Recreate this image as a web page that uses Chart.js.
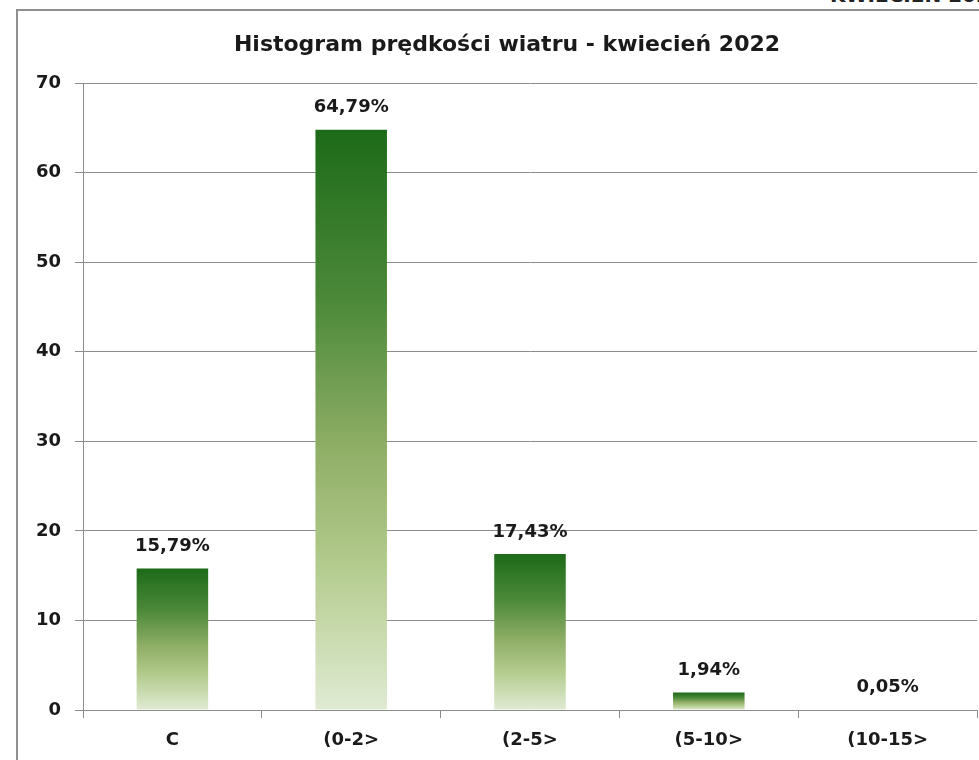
<!DOCTYPE html>
<html>
<head>
<meta charset="utf-8">
<script src="https://cdn.jsdelivr.net/npm/chart.js@4"></script>
<style>
  body { margin: 0; background: #fff; overflow: hidden; }
  #wrap { position: relative; width: 979px; height: 760px; }
  #frame { position: absolute; left: 16px; top: 9px; width: 1000px; height: 800px; border: 2px solid #8f8f8f; box-sizing: border-box; }
  #topText { position: absolute; left: 830px; top: -17px; font: bold 20px "DejaVu Sans", sans-serif; color: #222; white-space: nowrap; }
  canvas { position: absolute; left: 0; top: 0; }
</style>
</head>
<body>
<div id="wrap">
  <div id="topText">KWIECIEŃ 2022</div>
  <div id="frame"></div>
  <canvas id="windChart" width="979" height="760"></canvas>
</div>
<script>
var categories = ['C', '(0-2>', '(2-5>', '(5-10>', '(10-15>'];
var shares = [15.79, 64.79, 17.43, 1.94, 0.05];
var shareLabels = ['15,79%', '64,79%', '17,43%', '1,94%', '0,05%'];
var yTicks = [0, 10, 20, 30, 40, 50, 60, 70];
var chartTitle = 'Histogram prędkości wiatru - kwiecień 2022';

var fontName = '"DejaVu Sans", sans-serif';

// each bar gets its own dark-to-light gradient
const barGradient = (context) => {
   var chart = context.chart;
   if (!chart.chartArea) return '#4f8c3c';
   var y = chart.scales.y;
   var top = y.getPixelForValue(context.parsed ? context.parsed.y : 0);
   var bottom = y.getPixelForValue(0);
   if (bottom - top < 1) top = bottom - 1;
   var g = chart.ctx.createLinearGradient(0, top, 0, bottom);
   g.addColorStop(0, '#1c6a18');
   g.addColorStop(0.3, '#4d8a3a');
   g.addColorStop(0.55, '#8fae66');
   g.addColorStop(0.75, '#b3cb8d');
   g.addColorStop(1, '#e0ebd3');
   return g;
}

const valueLabels = {
   id: 'valueLabels',
   afterDatasetsDraw(chart) {
       var ctx = chart.ctx;
       var meta = chart.getDatasetMeta(0);
       ctx.save();
       ctx.font = 'bold 18px ' + fontName;
       ctx.fillStyle = '#1a1a1a';
       ctx.textAlign = 'center';
       ctx.textBaseline = 'middle';
       meta.data.forEach((bar, i) => {
           ctx.fillText(shareLabels[i], bar.x, bar.y - 22);
       });
       ctx.restore();
   }
};

// title is centred on the framed box, not on the canvas
const frameTitle = {
   id: 'frameTitle',
   afterDraw(chart) {
       var ctx = chart.ctx;
       ctx.save();
       ctx.font = 'bold 22px ' + fontName;
       ctx.fillStyle = '#1a1a1a';
       ctx.textAlign = 'center';
       ctx.textBaseline = 'middle';
       ctx.fillText(chartTitle, 507, 45);
       ctx.restore();
   }
};

document.addEventListener('DOMContentLoaded', () => {
   var ctx = document.getElementById('windChart');
   new Chart(ctx, {
       type: 'bar',
       data: {
           labels: categories,
           datasets: [{
               data: shares,
               backgroundColor: barGradient,
               borderWidth: 0,
               categoryPercentage: 1,
               barPercentage: 0.4
           }]
       },
       options: {
           responsive: false,
           animation: false,
           events: [],
           layout: { padding: { left: 0, right: 2, top: 83, bottom: 0 } },
           scales: {
               y: {
                   min: 0,
                   max: 70,
                   afterFit: (s) => { s.width = 83; },
                   afterBuildTicks: (s) => { s.ticks = yTicks.map(v => ({ value: v })); },
                   border: { color: '#8c8c8c', width: 1 },
                   grid: { color: '#8c8c8c', lineWidth: 1, tickLength: 8 },
                   ticks: {
                       padding: 14,
                       color: '#1a1a1a',
                       font: { family: fontName, size: 18, weight: 'bold' }
                   }
               },
               x: {
                   afterFit: (s) => { s.height = 50; },
                   border: { color: '#8c8c8c', width: 1 },
                   grid: { display: true, drawOnChartArea: false, color: '#8c8c8c', tickLength: 8, offset: true },
                   ticks: {
                       padding: 12,
                       color: '#1a1a1a',
                       font: { family: fontName, size: 18, weight: 'bold' }
                   }
               }
           },
           plugins: {
               legend: { display: false },
               tooltip: { enabled: false },
               title: { display: false }
           }
       },
       plugins: [valueLabels, frameTitle]
   });
});
</script>
</body>
</html>
